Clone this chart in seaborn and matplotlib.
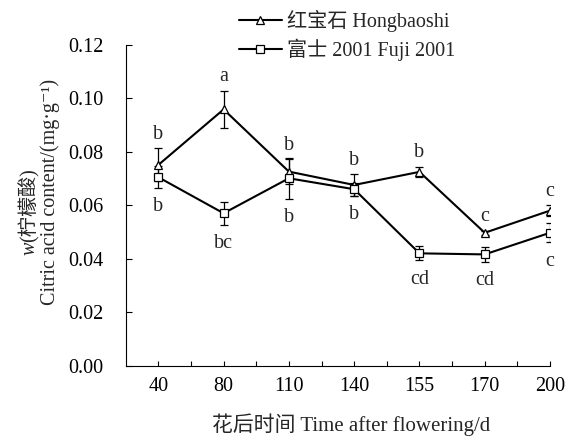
import numpy as np
import pandas as pd
import seaborn as sns
import matplotlib
matplotlib.use("Agg")
import matplotlib.pyplot as plt
from matplotlib.ticker import FixedLocator

# ---- data ----
times = ["40", "80", "110", "140", "155", "170", "200"]
hong_vals = [0.0751, 0.0959, 0.0726, 0.0676, 0.0725, 0.0497, 0.0580]
hong_err = [0.0062, 0.0070, 0.0046, 0.0040, 0.0019, 0.0008, 0.0021]
fuji_vals = [0.0705, 0.0570, 0.0701, 0.0660, 0.0420, 0.0416, 0.0497]
fuji_err = [0.0041, 0.0043, 0.0077, 0.0024, 0.0026, 0.0027, 0.0036]
hong_letters = ["b", "a", "b", "b", "b", "c", "c"]
fuji_letters = ["b", "bc", "b", "b", "cd", "cd", "c"]
hong_label = "红宝石 Hongbaoshi"
fuji_label = "富士 2001 Fuji 2001"
yticks = [0.00, 0.02, 0.04, 0.06, 0.08, 0.10, 0.12]

sns.set_theme(style="white")
fam = ["Liberation Serif", "Noto Sans CJK SC", "DejaVu Sans"]
plt.rcParams["font.family"] = fam
FS = 14.5

pos = np.arange(len(times))
df = pd.DataFrame({
    "pos": np.concatenate([pos, pos]),
    "value": hong_vals + fuji_vals,
    "err": hong_err + fuji_err,
    "cultivar": [hong_label] * len(times) + [fuji_label] * len(times),
})

fig = plt.figure(figsize=(5.69, 4.40), dpi=100)
ax = fig.add_axes([0.2209, 0.1693, 0.7457, 0.7284])

for lab, mk, ms in [(hong_label, "^", 6), (fuji_label, "s", 6)]:
    sub = df[df["cultivar"] == lab]
    ax.errorbar(sub["pos"], sub["value"], yerr=sub["err"], fmt="none",
                ecolor="black", elinewidth=0.9, capsize=3, capthick=0.9, zorder=2)
    sns.lineplot(data=sub, x="pos", y="value", ax=ax, color="black",
                 marker=mk, markersize=ms, markerfacecolor="white",
                 markeredgecolor="black", markeredgewidth=0.9,
                 linewidth=1.5, label=lab, zorder=3, legend=False)

# significance letters
for i in range(len(times)):
    ax.annotate(hong_letters[i], (pos[i], hong_vals[i] + hong_err[i]),
                xytext=(0, 10), textcoords="offset points",
                ha="center", va="center", fontsize=FS, family=fam)
    ax.annotate(fuji_letters[i], (pos[i], fuji_vals[i] - fuji_err[i]),
                xytext=(0, -13.5), textcoords="offset points",
                ha="center", va="center", fontsize=FS, family=fam)

ax.set_xlim(-0.5, len(times) - 1)
ax.set_ylim(0, 0.12)
ax.set_xticks(pos, labels=times)
ax.xaxis.set_minor_locator(FixedLocator(pos[:-1] + 0.5))
ax.set_yticks(yticks, labels=[f"{v:.2f}" for v in yticks])
ax.tick_params(axis="x", which="both", direction="in", length=3.5, width=0.8,
               pad=8, labelsize=FS, colors="black", bottom=True)
ax.tick_params(axis="y", direction="in", length=4, width=0.8, pad=16,
               labelsize=FS, colors="black", left=True)
for t in ax.get_xticklabels() + ax.get_yticklabels():
    t.set_family(fam)
ax.set_xlabel("")
ax.set_ylabel("")
sns.despine(ax=ax)
for s in ["left", "bottom"]:
    ax.spines[s].set_color("black")
    ax.spines[s].set_linewidth(0.8)

# axis titles
fig.text(351 / 569, 1 - 425 / 440, "花后时间 Time after flowering/d",
         ha="center", va="center", fontsize=15, family=fam)
fig.text(35 / 569, 1 - 242 / 440, "(柠檬酸)", rotation=90, rotation_mode="anchor",
         ha="left", va="baseline", fontsize=FS, family=fam)
fig.text(35 / 569, 1 - 242 / 440, "w", rotation=90, rotation_mode="anchor",
         style="italic", ha="right", va="baseline", fontsize=FS, family=fam)
fig.text(55 / 569, 1 - 192 / 440, "Citric acid content/(mg·g⁻¹)", rotation=90,
         rotation_mode="anchor", ha="center", va="baseline", fontsize=FS, family=fam)

handles, labels = ax.get_legend_handles_labels()
fig.legend(handles, labels, loc="upper left", bbox_to_anchor=(239.3 / 569, 0.978),
           frameon=False, fontsize=FS, handlelength=2.1, handletextpad=0.28,
           borderpad=0, borderaxespad=0, labelspacing=0.35, numpoints=1,
           prop={"family": fam, "size": FS})

fig.savefig("out.png", dpi=100)
